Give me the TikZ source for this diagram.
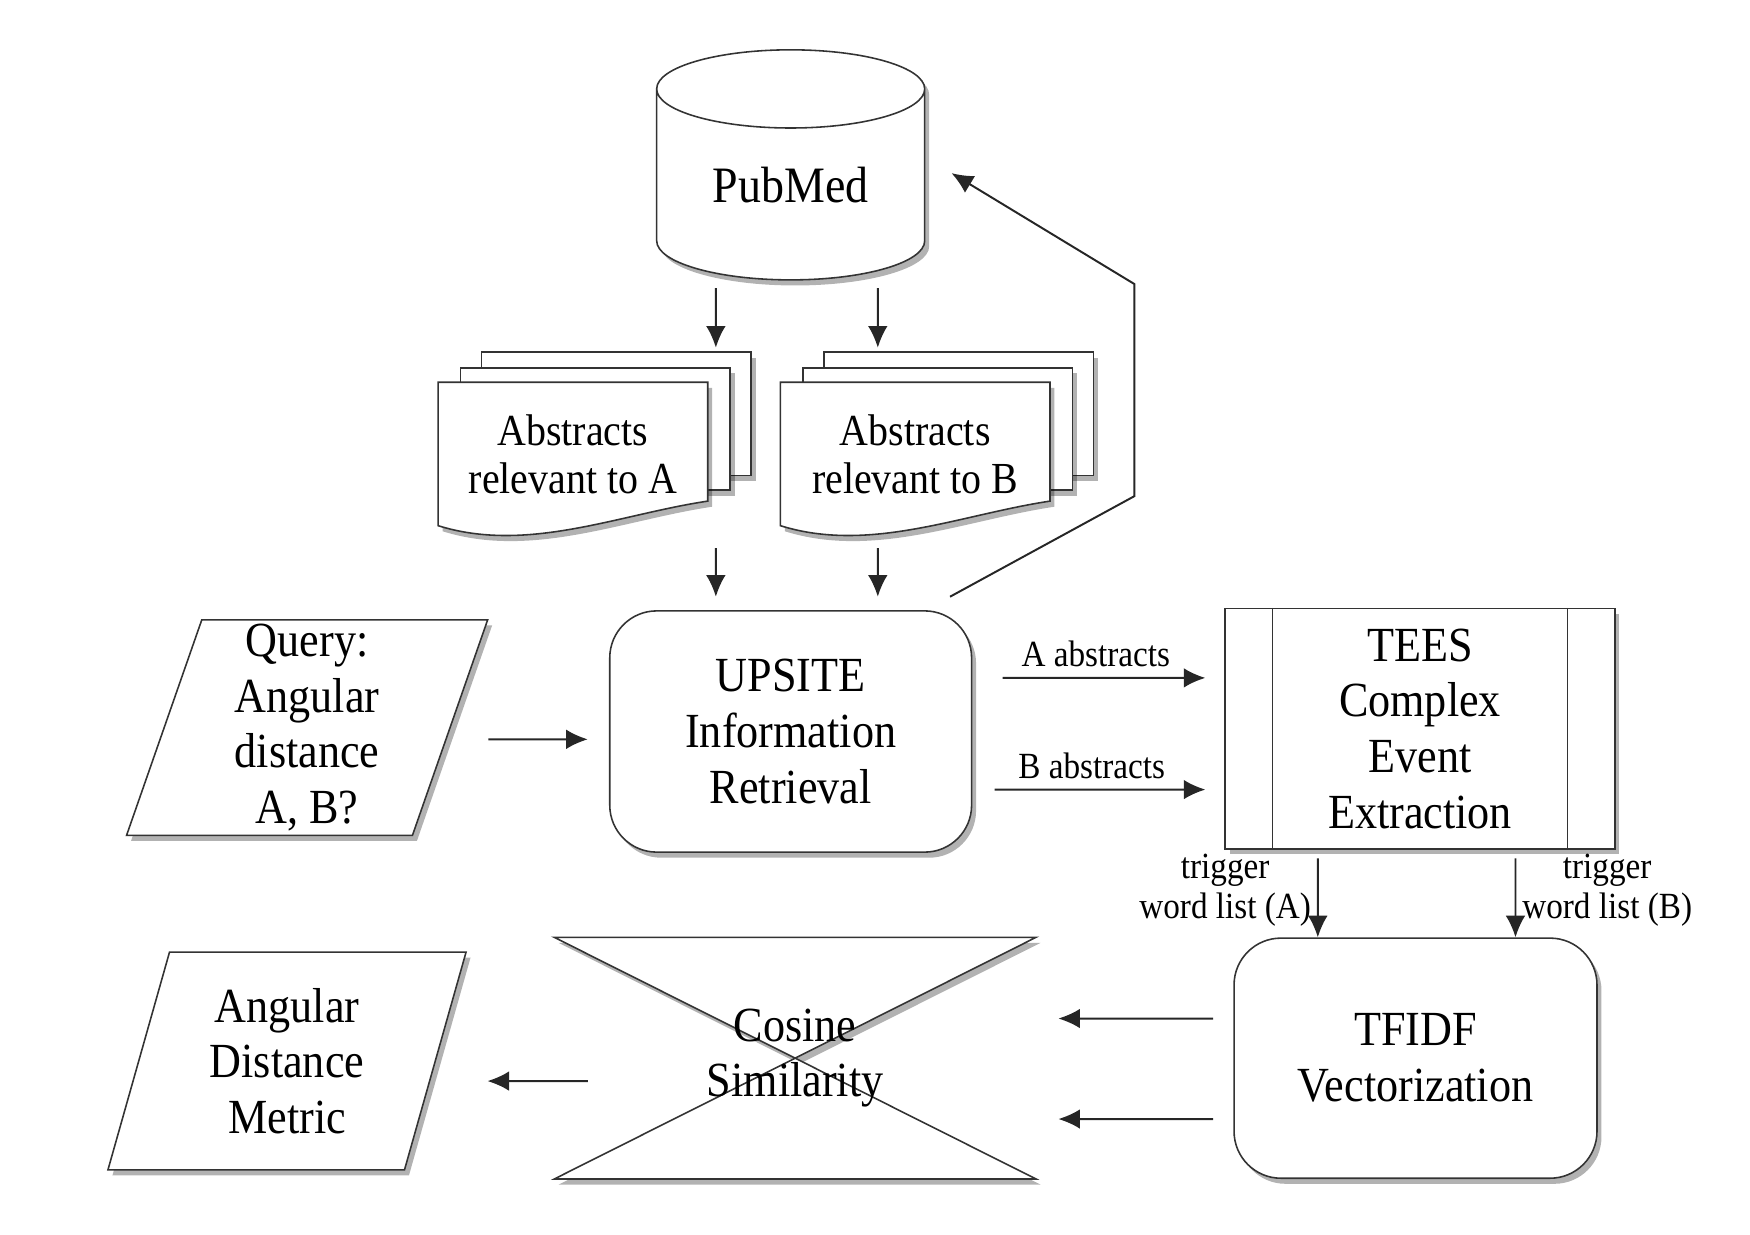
\documentclass[tikz,border=0pt]{standalone}
\usepackage{fontspec}
\setmainfont{Liberation Serif}[FakeStretch=0.9]
\usetikzlibrary{shapes.geometric, arrows.meta, shadows, backgrounds, positioning}

\tikzstyle{shadowed} = [drop shadow={shadow xshift=0.04cm, shadow yshift=-0.05cm, fill=black, opacity=0.3}]
\tikzstyle{db} = [cylinder, shape border rotate=90, aspect=0.43, minimum width=2.4cm, minimum height=2.06cm, text depth=0.15cm, draw=black!80, fill=white, shadowed, text centered, font=\fontsize{13}{14.2}\selectfont]
\tikzstyle{io} = [trapezium, trapezium stretches=true, inner sep=0pt, draw=black!80, fill=white, shadowed, align=center]
\tikzstyle{process} = [rectangle, rounded corners=0.42cm, inner sep=1pt, draw=black!80, fill=white, shadowed, align=center]
\tikzstyle{predef} = [rectangle, inner sep=1pt, draw=black!80, fill=white, shadowed, align=center]
\tikzstyle{doctext} = [minimum width=2.4cm, minimum height=1.27cm, align=center, font=\fontsize{11.3}{12.2}\selectfont]
\tikzstyle{sheet} = [draw=black!80, fill=white, shadowed]
\tikzstyle{arrow} = [draw=black!85, line width=0.5pt, -{Latex[length=5.5pt,width=5pt]}]
\tikzstyle{lbl} = [font=\fontsize{9.4}{10.2}\selectfont, inner sep=1.5pt, align=center]

\begin{document}
\begin{tikzpicture}[node distance=1cm, font=\fontsize{12.5}{14.2}\selectfont]
\useasboundingbox (0,0) rectangle (15.67,-11.05);

\node (query) [io, trapezium left angle=76, trapezium right angle=104, minimum width=3.24cm, minimum height=1.93cm] at (2.75,-6.515) {Query:\\Angular\\distance\\A, B?};
\node (upsite) [process, right of=query, xshift=3.33cm, yshift=-0.035cm, minimum width=3.24cm, minimum height=2.16cm] {UPSITE\\Information\\Retrieval};
\draw [arrow] ([xshift=0.335cm, yshift=-0.105cm]query.east) -- ([xshift=-0.19cm, yshift=-0.07cm]upsite.west);

\node (pubmed) [db] at (7.08,-1.73) {PubMed};

% abstract stacks
\node (docA) [doctext] at (5.13,-4.065) {Abstracts\\relevant to A};
\node (docB) [doctext, right of=docA, xshift=2.065cm] {Abstracts\\relevant to B};
\begin{scope}[on background layer]
\draw [sheet] ([xshift=0.39cm, yshift=0.27cm]docA.north west) rectangle ([xshift=0.39cm, yshift=0.45cm]docA.south east);
\draw [sheet] ([xshift=0.2cm, yshift=0.13cm]docA.north west) rectangle ([xshift=0.2cm, yshift=0.32cm]docA.south east);
\draw [sheet] (docA.north west) -- (docA.north east) -- ([yshift=0.22cm]docA.south east) .. controls +(-0.8,-0.12) and +(0.8,-0.25) .. (docA.south west) -- cycle;
\draw [sheet] ([xshift=0.39cm, yshift=0.27cm]docB.north west) rectangle ([xshift=0.39cm, yshift=0.45cm]docB.south east);
\draw [sheet] ([xshift=0.2cm, yshift=0.13cm]docB.north west) rectangle ([xshift=0.2cm, yshift=0.32cm]docB.south east);
\draw [sheet] (docB.north west) -- (docB.north east) -- ([yshift=0.22cm]docB.south east) .. controls +(-0.8,-0.12) and +(0.8,-0.25) .. (docB.south west) -- cycle;
\end{scope}

\draw [arrow] ([xshift=-0.67cm, yshift=-0.85cm]pubmed.center) -- ([xshift=1.28cm, yshift=0.31cm]docA.north);
\draw [arrow] ([xshift=0.78cm, yshift=-0.85cm]pubmed.center) -- ([xshift=-0.335cm, yshift=0.31cm]docB.north);
\draw [arrow] ([xshift=1.28cm, yshift=-0.2cm]docA.south) -- ([xshift=-0.67cm, yshift=0.12cm]upsite.north);
\draw [arrow] ([xshift=-0.335cm, yshift=-0.2cm]docB.south) -- ([xshift=0.78cm, yshift=0.12cm]upsite.north);
\draw [arrow] ([xshift=-0.2cm, yshift=0.12cm]upsite.north east) -- ++(1.65,0.9) -- ++(0,1.9) -- ([xshift=1.44cm, yshift=0.18cm]pubmed.center);

\node (tees) [predef, minimum width=3.49cm, minimum height=2.15cm] at (12.715,-6.525) {TEES\\Complex\\Event\\Extraction};
\draw [black!80] ([xshift=0.43cm]tees.north west) -- ([xshift=0.43cm]tees.south west);
\draw [black!80] ([xshift=-0.43cm]tees.north east) -- ([xshift=-0.43cm]tees.south east);
\draw [arrow] ([xshift=0.27cm, yshift=0.48cm]upsite.east) -- node[lbl, pos=0.46, above=1pt] {A abstracts} ([xshift=-0.17cm, yshift=0.455cm]tees.west);
\draw [arrow] ([xshift=0.2cm, yshift=-0.52cm]upsite.east) -- node[lbl, pos=0.46, above=1pt] {B abstracts} ([xshift=-0.17cm, yshift=-0.545cm]tees.west);

\node (tfidf) [process, below of=tees, yshift=-1.95cm, xshift=-0.04cm, minimum width=3.25cm, minimum height=2.15cm] {TFIDF\\Vectorization};
\draw [arrow] ([xshift=-0.915cm, yshift=-0.08cm]tees.south) -- node[lbl, pos=0.4, left] {trigger\\word list (A)} ([xshift=-0.875cm]tfidf.north);
\draw [arrow] ([xshift=0.855cm, yshift=-0.08cm]tees.south) -- node[lbl, pos=0.4, right] {trigger\\word list (B)} ([xshift=0.895cm]tfidf.north);

\node (cosine) [minimum width=4.3cm, minimum height=2.15cm, align=center] at (7.12,-9.475) {Cosine\\Similarity};
\begin{scope}[on background layer]
\draw [sheet] (cosine.north west) -- (cosine.north east) -- (cosine.south west) -- (cosine.south east) -- cycle;
\end{scope}
\draw [arrow] ([xshift=-0.18cm, yshift=0.355cm]tfidf.west) -- ([xshift=0.2cm, yshift=0.355cm]cosine.east);
\draw [arrow] ([xshift=-0.18cm, yshift=-0.545cm]tfidf.west) -- ([xshift=0.2cm, yshift=-0.545cm]cosine.east);

\node (metric) [io, trapezium left angle=74.5, trapezium right angle=105.5, minimum width=3.22cm, minimum height=1.95cm] at (2.57,-9.5) {Angular\\Distance\\Metric};
\draw [arrow] ([xshift=0.3cm, yshift=-0.205cm]cosine.west) -- ([xshift=0.46cm, yshift=-0.18cm]metric.east);

\end{tikzpicture}
\end{document}
